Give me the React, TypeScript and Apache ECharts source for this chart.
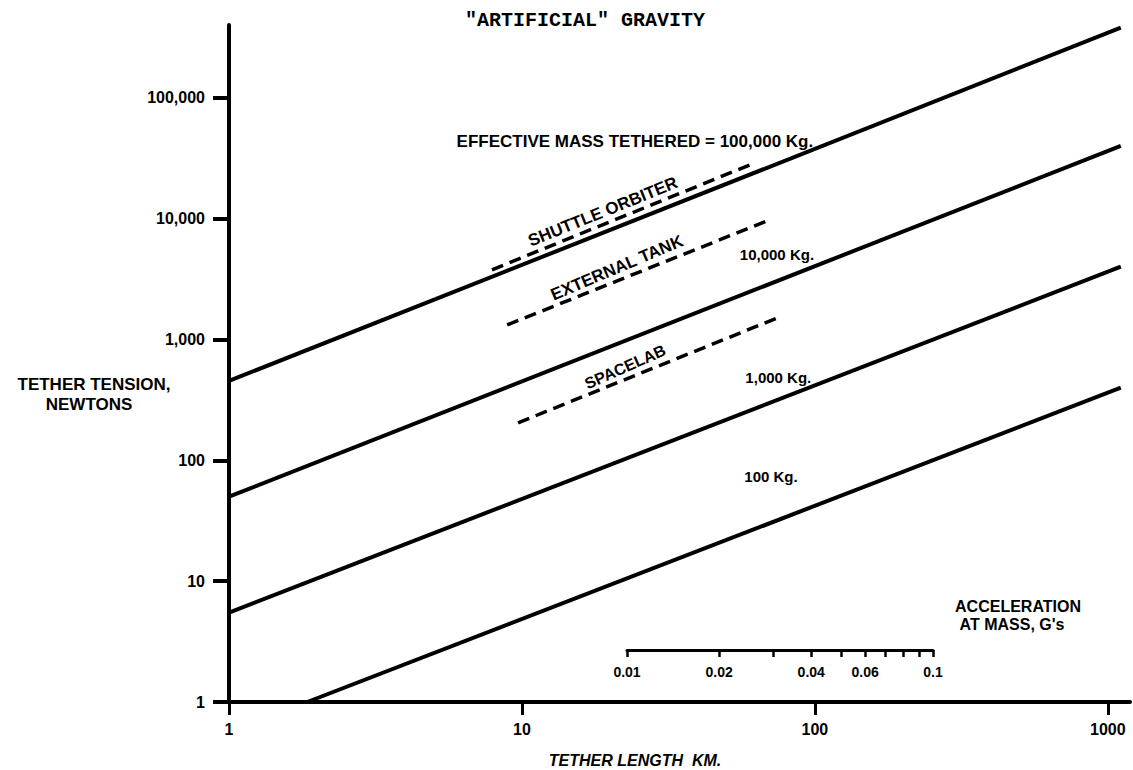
import React, { useEffect, useRef } from "react";
import * as echarts from "echarts";

// Axis ticks / labels
const xTickValues = [1, 10, 100, 1000];
const yTickValues = [1, 10, 100, 1000, 10000, 100000];
const accelTickValues = [0.01, 0.02, 0.03, 0.04, 0.05, 0.06, 0.07, 0.08, 0.09, 0.1];
const accelLabelValues = [0.01, 0.02, 0.04, 0.06, 0.1];

// Tension lines [tether length km, tension N]
const mass100000: number[][] = [[1, 454], [1107, 380000]];
const mass10000: number[][] = [[1, 50], [1107, 40000]];
const mass1000: number[][] = [[1, 5.5], [1107, 4000]];
const mass100: number[][] = [[1.85, 1], [1107, 400]];

// Dashed vehicle lines
const shuttleOrbiter: number[][] = [[7.9, 3770], [62.4, 28950]];
const externalTank: number[][] = [[8.9, 1320], [70.2, 9780]];
const spacelab: number[][] = [[9.7, 204], [76, 1540]];

// Annotation texts and their anchor (data coords)
const massLabelTexts = ["EFFECTIVE MASS TETHERED = 100,000 Kg.", "10,000 Kg.", "1,000 Kg.", "100 Kg."];
const massLabelCoords = [[24.3, 43200], [74.2, 5010], [75, 481], [70.8, 74]];
const massLabelSizes = [17, 15, 15, 15];
const vehicleLabelTexts = ["SHUTTLE ORBITER", "EXTERNAL TANK", "SPACELAB"];
const vehicleLabelCoords = [[18.9, 11380], [21.1, 3915], [22.5, 593]];
const vehicleLabelSizes = [17, 17, 16];
const vehicleLabelAngles = [22, 23, 24];

const FONT = "'Liberation Sans', Arial, sans-serif";

export default function App() {
  const ref = useRef<HTMLDivElement>(null);
  useEffect(() => {
    if (!ref.current) return;
    const chart = echarts.init(ref.current, undefined, { renderer: "svg" });

    const solid = (name: string, data: number[][], i: number) => ({
      name,
      type: "line",
      xAxisIndex: 0,
      yAxisIndex: 0,
      data,
      showSymbol: false,
      symbol: "none",
      silent: true,
      lineStyle: { color: "#000", width: 4 },
      markPoint: {
        symbol: "circle",
        symbolSize: 0,
        silent: true,
        data: [{ name: massLabelTexts[i], coord: massLabelCoords[i] }],
        label: {
          show: true,
          position: "inside",
          formatter: "{b}",
          color: "#000",
          fontFamily: FONT,
          fontWeight: "bold",
          fontSize: massLabelSizes[i],
        },
      },
    });

    const dashed = (name: string, data: number[][], i: number) => ({
      name,
      type: "line",
      xAxisIndex: 0,
      yAxisIndex: 0,
      data,
      showSymbol: false,
      symbol: "none",
      silent: true,
      lineStyle: { color: "#000", width: 3.5, type: [12, 7] },
      markPoint: {
        symbol: "circle",
        symbolSize: 0,
        silent: true,
        data: [{ name: vehicleLabelTexts[i], coord: vehicleLabelCoords[i] }],
        label: {
          show: true,
          position: "inside",
          formatter: "{b}",
          rotate: vehicleLabelAngles[i],
          color: "#000",
          fontFamily: FONT,
          fontWeight: "bold",
          fontSize: vehicleLabelSizes[i],
        },
      },
    });

    const txt = (text: string, x: number, y: number, font: string) => ({
      type: "text",
      x,
      y,
      silent: true,
      style: { text, fill: "#000", font, align: "center", verticalAlign: "middle" },
    });

    const option: any = {
      animation: false,
      backgroundColor: "#fff",
      grid: [
        { left: 229, right: 3, top: 25, bottom: 68, outerBoundsMode: "none" },
        { left: 627, width: 306, top: 640, height: 10, outerBoundsMode: "none" },
      ],
      xAxis: [
        {
          gridIndex: 0,
          type: "log",
          logBase: 10,
          min: 1,
          max: 1190,
          axisLine: { show: true, lineStyle: { color: "#000", width: 4 } },
          axisTick: { show: true, length: 13, lineStyle: { color: "#000", width: 3 }, customValues: xTickValues },
          axisLabel: {
            color: "#000",
            fontFamily: FONT,
            fontWeight: "bold",
            fontSize: 16,
            margin: 19,
            customValues: xTickValues,
            formatter: (v: number) => String(Math.round(v)),
          },
          splitLine: { show: false },
          minorTick: { show: false },
        },
        {
          gridIndex: 1,
          type: "log",
          logBase: 10,
          min: 0.01,
          max: 0.1,
          position: "bottom",
          axisLine: { show: true, lineStyle: { color: "#000", width: 3 } },
          axisTick: { show: true, length: 7, lineStyle: { color: "#000", width: 2.5 }, customValues: accelTickValues },
          axisLabel: {
            color: "#000",
            fontFamily: FONT,
            fontWeight: "bold",
            fontSize: 14,
            margin: 15,
            customValues: accelLabelValues,
            formatter: (v: number) => String(parseFloat(v.toPrecision(2))),
          },
          splitLine: { show: false },
        },
      ],
      yAxis: [
        {
          gridIndex: 0,
          type: "log",
          logBase: 10,
          min: 1,
          max: 400000,
          axisLine: { show: true, lineStyle: { color: "#000", width: 4 } },
          axisTick: { show: true, length: 16, lineStyle: { color: "#000", width: 4 }, customValues: yTickValues },
          axisLabel: {
            color: "#000",
            fontFamily: FONT,
            fontWeight: "bold",
            fontSize: 16,
            margin: 24,
            customValues: yTickValues,
            formatter: (v: number) => Math.round(v).toLocaleString("en-US"),
          },
          splitLine: { show: false },
        },
        { gridIndex: 1, type: "value", show: false, min: 0, max: 1 },
      ],
      series: [
        solid("100,000 Kg", mass100000, 0),
        solid("10,000 Kg", mass10000, 1),
        solid("1,000 Kg", mass1000, 2),
        solid("100 Kg", mass100, 3),
        dashed("Shuttle Orbiter", shuttleOrbiter, 0),
        dashed("External Tank", externalTank, 1),
        dashed("Spacelab", spacelab, 2),
      ],
      graphic: [
        txt('"ARTIFICIAL" GRAVITY', 585, 20, "bold 20px 'Liberation Mono', 'Courier New', monospace"),
        txt("TETHER TENSION,", 94, 384, `bold 17px ${FONT}`),
        txt("NEWTONS", 89, 404, `bold 17px ${FONT}`),
        txt("TETHER LENGTH  KM.", 635, 760, `italic bold 16px ${FONT}`),
        txt("ACCELERATION", 1018, 606, `bold 16px ${FONT}`),
        txt("AT MASS, G's", 1012, 624, `bold 16px ${FONT}`),
      ],
    };

    chart.setOption(option);
    return () => chart.dispose();
  }, []);

  return (
    <div
      ref={ref}
      style={{ position: "fixed", left: 0, top: 0, width: 1133, height: 770, background: "#fff" }}
    />
  );
}
